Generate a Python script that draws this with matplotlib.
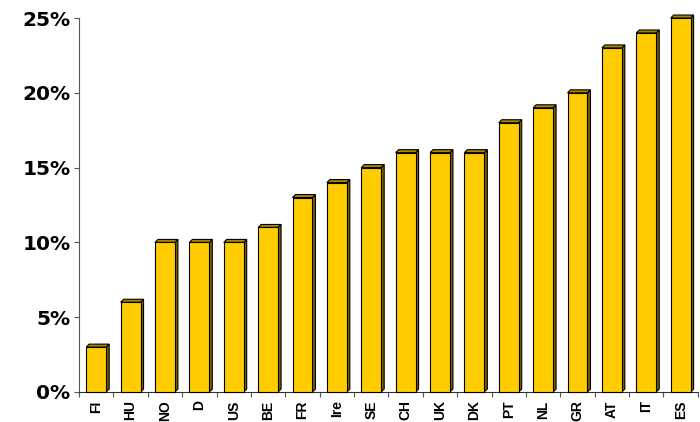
import numpy as np
import matplotlib
matplotlib.use("Agg")
import matplotlib.pyplot as plt
from matplotlib.patches import Polygon

# data (percent)
countries = ["FI", "HU", "NO", "D", "US", "BE", "FR", "Ire", "SE", "CH",
             "UK", "DK", "PT", "NL", "GR", "AT", "IT", "ES"]
values = [3, 6, 10, 10, 10, 11, 13, 14, 15, 16, 16, 16, 18, 19, 20, 23, 24, 25]
y_ticks = [0, 5, 10, 15, 20, 25]

front_col = "#FFCC00"
side_col = "#7A6100"
top_col = "#A88600"

fig = plt.figure(figsize=(7, 4.22), dpi=100)
ax = fig.add_axes([0.1129, 0.0711, 0.884, 0.8862])

x = np.arange(len(countries))
w = 0.58
dx = 0.087   # depth of the fake 3d in data units (~3px)
dy = 0.2

ax.bar(x, values, width=w, color=front_col, edgecolor="black", linewidth=0.8,
       zorder=3, clip_on=False)

# side and top faces for the 3d look
for xi, v in zip(x, values):
    r = xi + w / 2
    l = xi - w / 2
    side = Polygon([(r, 0), (r + dx, dy), (r + dx, v + dy), (r, v)],
                   closed=True, facecolor=side_col, edgecolor="black",
                   linewidth=0.8, zorder=2, clip_on=False)
    top = Polygon([(l, v), (l + dx, v + dy), (r + dx, v + dy), (r, v)],
                  closed=True, facecolor=top_col, edgecolor="black",
                  linewidth=0.8, zorder=2, clip_on=False)
    ax.add_patch(side)
    ax.add_patch(top)

ax.set_xlim(-0.5, len(countries) - 0.5)
ax.set_ylim(0, 25)

ax.set_yticks(y_ticks)
ax.set_yticklabels([f"{t}%" for t in y_ticks], fontsize=14.5,
                   fontweight="bold", family="DejaVu Sans")
ax.tick_params(axis="y", length=3.6, width=0.8, color="#555555", pad=2.5)

ax.set_xticks(x)
ax.set_xticklabels(countries, rotation=90, fontsize=10, fontweight="bold",
                   family="Liberation Sans")
ax.set_xticks(np.arange(-0.5, len(countries)), minor=True)
ax.tick_params(axis="x", which="major", length=0, pad=6)
ax.tick_params(axis="x", which="minor", length=3.6, width=0.8, color="#555555")

for s in ["top", "right"]:
    ax.spines[s].set_visible(False)
ax.spines["left"].set_color("#555555")
ax.spines["bottom"].set_color("#333333")
ax.spines["left"].set_linewidth(0.8)
ax.spines["bottom"].set_linewidth(0.8)

fig.savefig("out.png", dpi=100)
